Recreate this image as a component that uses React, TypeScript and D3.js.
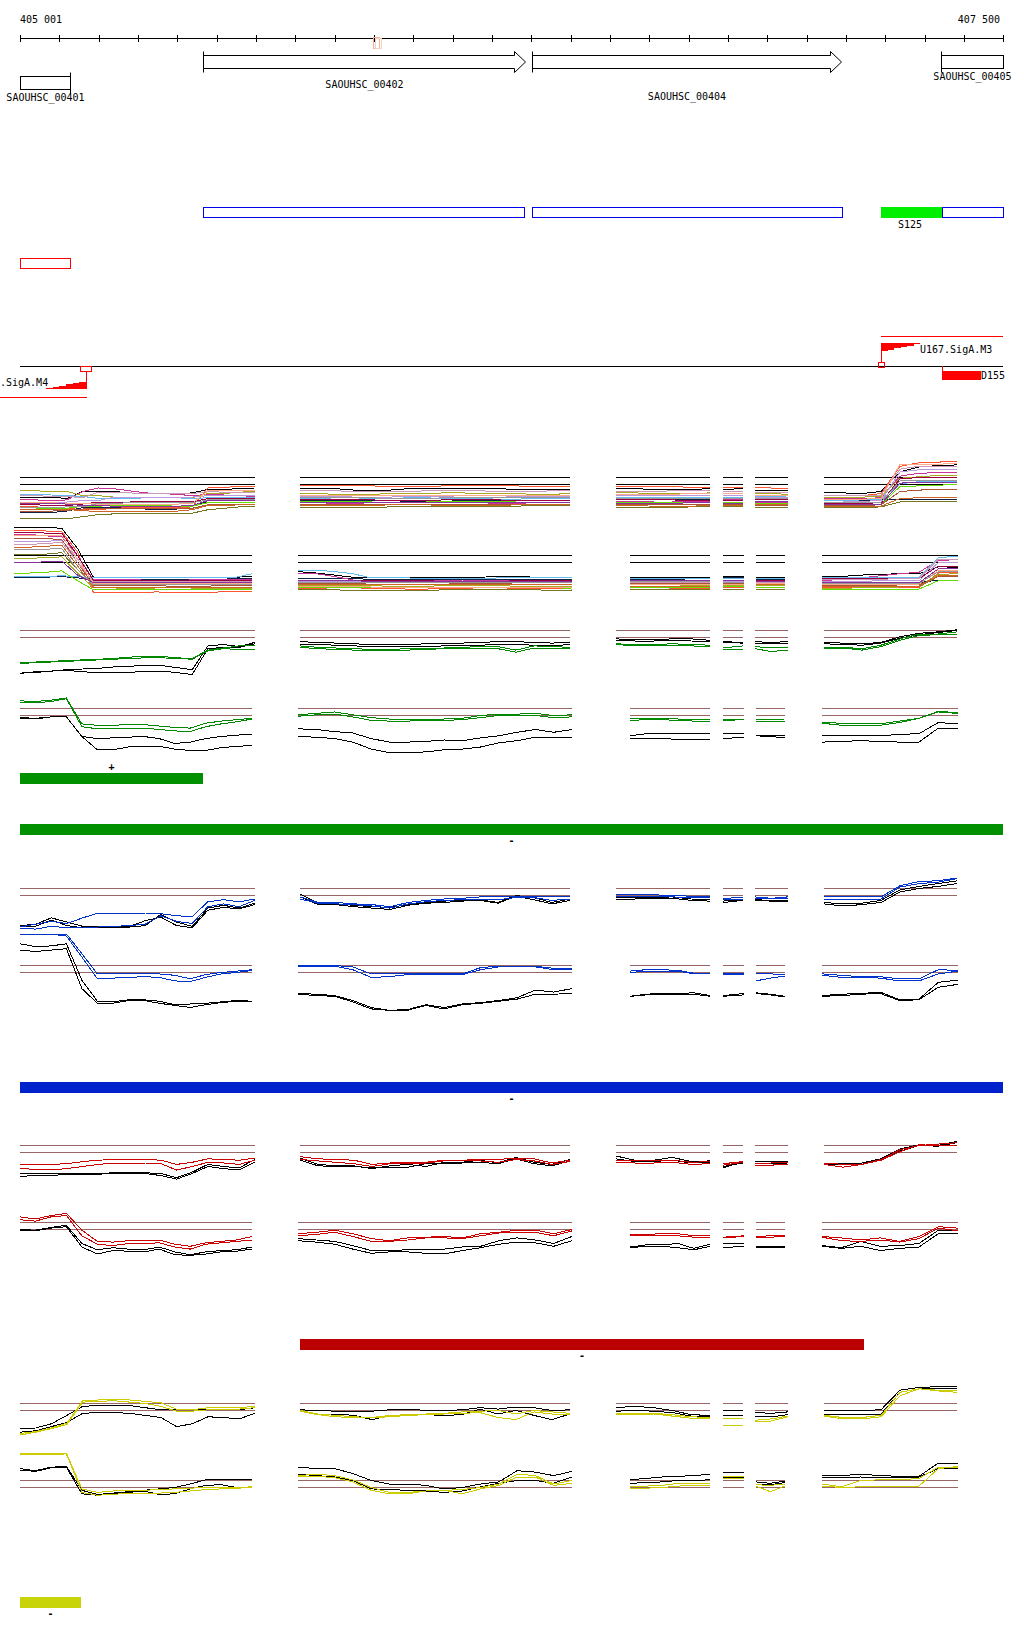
import React from 'react';
import * as d3 from 'd3';

// ---------- genome window ----------
const START = 405001;
const END = 407500;
const rulerLabels = ['405 001', '407 500'];
const rulerMarkBp = 405898;

// ---------- genes ----------
const geneNames = ['SAOUHSC_00401', 'SAOUHSC_00402', 'SAOUHSC_00404', 'SAOUHSC_00405'];
const geneStarts = [405001, 405466, 406302, 407342];
const geneEnds = [405128, 406285, 407087, 407500];
const geneShapes = ['box', 'arrow', 'arrow', 'box'];
const geneMarkAtEnd = [true, false, false, false];

// ---------- transcripts / features ----------
const transcriptStarts = [405466, 406302, 407345];
const transcriptEnds = [406282, 407090, 407500];
const greenFeature = [407190, 407345];
const greenFeatureLabel = 'S125';
const redBox = [405001, 405128];
const promoterPlus = { pos: 407190, lineEnd: 407500, label: 'U167.SigA.M3' };
const promoterMinus = { pos: 405169, lineStart: 404950, label: '.SigA.M4' };
const downFeature = { start: 407345, end: 407444, label: 'D155' };

// ---------- operon bars ----------
const barStarts = [405001, 405001, 405001, 405713, 405001];
const barEnds = [405466, 407500, 407500, 407146, 405156];
const barSigns = ['+', '-', '-', '-', '-'];

// ---------- probe segments (bp) ----------
const segsTop = [[405001, 405598], [405713, 406399], [406516, 406755], [406788, 406839], [406869, 406953], [407045, 407383]];
const segsBottom = [[405001, 405591], [405708, 406404], [406552, 406755], [406788, 406841], [406872, 406945], [407040, 407385]];
const segsBottomA = [[404986, 405591], [405708, 406404], [406552, 406755], [406788, 406841], [406872, 406945], [407040, 407385]];

// ---------- group A (many conditions) ----------
const paletteA = ['#000000', '#112244', '#ff5533', '#cc3399', '#aaaa22', '#777722', '#66bbee', '#bb99dd', '#aa5533', '#990044', '#66dd00', '#cc6622', '#cc99bb', '#ffaa88', '#999999', '#883399'];

const A1 = [
  [[-1.8,-1.8,-1.8,-2.0,-1.0,-1.0,-1.0,-1.2,-1.3,-1.3,-1.3,-1.2,-0.7,-0.7,-0.6,-0.5],[-0.6,-0.6,-0.6,-0.8,-0.8,-0.8,-0.6,-0.6,-0.6,-0.6,-0.6,-0.6,-0.7,-0.7,-0.7,-0.7],[-0.6,-0.6,-0.7,-0.7,-0.7,-0.6],[-0.7,-0.6],[-0.8,-0.8,-0.8],[-1.2,-1.2,-1.3,-1.0,1.8,2.5,2.7,2.8]],
  [[-4.0,-4.0,-4.0,-3.8,-3.3,-3.3,-3.3,-3.3,-3.5,-3.5,-3.5,-3.0,-2.5,-2.5,-2.5,-2.5],[-2.3,-2.3,-2.3,-2.3,-2.3,-2.3,-2.4,-2.4,-2.4,-2.3,-2.3,-2.3,-2.3,-2.3,-2.3,-2.3],[-2.1,-2.1,-2.1,-2.1,-2.1,-2.1],[-2.1,-2.1],[-2.1,-2.1,-2.1],[-2.3,-2.3,-2.3,-2.2,-2.2,-2.2,-2.2,-2.2]],
  [[-3.2,-3.2,-3.3,-3.4,-3.6,-3.6,-3.4,-3.3,-3.3,-3.3,-3.3,-3.2,-0.5,-0.4,-0.3,-0.3],[-0.2,-0.2,-0.2,-0.2,-0.2,-0.3,-0.3,-0.3,-0.2,-0.2,-0.2,-0.2,-0.2,-0.3,-0.3,-0.3],[-0.3,-0.3,-0.3,-0.3,-0.4,-0.4],[-0.4,-0.4],[-0.4,-0.5,-0.5],[-1.5,-1.5,-1.6,-1.3,2.6,3.1,3.2,3.3]],
  [[-2.2,-2.2,-2.3,-2.2,-1.0,-0.5,-0.6,-0.9,-1.2,-1.3,-1.4,-1.6,-1.4,-1.5,-1.6,-1.7],[-2.6,-2.6,-2.7,-2.7,-2.6,-2.6,-2.6,-2.5,-2.5,-2.6,-2.6,-2.7,-2.7,-2.6,-2.6,-2.6],[-2.4,-2.4,-2.5,-2.5,-2.4,-2.4],[-2.1,-2.1],[-2.5,-2.5,-2.5],[-2.0,-2.0,-2.0,-1.9,1.2,1.6,1.7,1.7]],
  [[-0.9,-0.9,-1.0,-1.0,-1.6,-1.6,-1.8,-1.8,-1.9,-1.9,-1.9,-1.9,-1.3,-1.3,-1.1,-1.0],[-1.3,-1.3,-1.4,-1.4,-1.4,-1.3,-1.3,-1.3,-1.2,-1.2,-1.3,-1.3,-1.3,-1.4,-1.4,-1.3],[-1.2,-1.2,-1.3,-1.3,-1.3,-1.2],[-1.5,-1.5],[-1.3,-1.3,-1.4],[-1.8,-1.8,-1.8,-1.7,0.9,1.1,1.3,1.3]],
  [[-4.9,-4.9,-4.9,-4.9,-4.6,-4.3,-4.2,-4.2,-4.2,-4.2,-4.2,-4.1,-3.6,-3.4,-3.2,-3.2],[-3.3,-3.3,-3.3,-3.3,-3.3,-3.2,-3.2,-3.2,-3.2,-3.1,-3.1,-3.1,-3.1,-3.0,-3.0,-3.0],[-3.3,-3.3,-3.3,-3.3,-3.2,-3.2],[-3.2,-3.2],[-3.3,-3.3,-3.3],[-3.3,-3.3,-3.3,-3.2,-2.5,-2.4,-2.4,-2.4]],
  [[-1.4,-1.4,-1.5,-1.6,-1.7,-2.0,-2.0,-2.0,-1.9,-1.9,-1.9,-2.0,-1.9,-1.8,-1.8,-1.8],[-2.0,-2.0,-2.1,-2.1,-2.0,-2.0,-1.9,-1.9,-2.0,-2.0,-2.0,-2.1,-2.1,-2.0,-2.0,-2.0],[-1.8,-1.8,-1.9,-1.9,-1.8,-1.8],[-1.9,-1.9],[-1.7,-1.7,-1.8],[-2.3,-2.3,-2.2,-2.2,0.1,0.4,0.4,0.5]],
  [[-2.6,-2.6,-2.6,-2.5,-2.3,-2.3,-1.8,-1.8,-1.8,-1.8,-1.9,-1.8,-1.6,-1.6,-1.5,-1.5],[-1.7,-1.7,-1.7,-1.8,-1.8,-1.8,-1.7,-1.7,-1.7,-1.6,-1.6,-1.6,-1.7,-1.7,-1.7,-1.7],[-1.5,-1.5,-1.6,-1.6,-1.6,-1.5],[-1.6,-1.6],[-1.8,-1.8,-1.8],[-2.5,-2.5,-2.4,-2.3,1.8,2.1,2.1,2.2]],
  [[-3.8,-3.8,-3.8,-3.7,-3.5,-3.4,-3.4,-3.4,-3.4,-3.4,-3.4,-3.4,-2.9,-2.9,-2.8,-2.8],[-2.9,-2.9,-2.9,-2.9,-2.8,-2.8,-2.8,-2.9,-2.9,-2.9,-2.9,-2.9,-2.8,-2.8,-2.8,-2.8],[-2.8,-2.8,-2.8,-2.9,-2.9,-2.9],[-2.8,-2.8],[-3.0,-3.0,-3.0],[-3.0,-3.0,-3.0,-2.9,-1.0,-0.8,-0.7,-0.7]],
  [[-2.9,-2.9,-3.0,-3.0,-2.8,-2.5,-2.5,-2.5,-2.4,-2.4,-2.4,-2.5,-2.0,-2.0,-2.0,-2.0],[-2.2,-2.2,-2.2,-2.2,-2.2,-2.3,-2.3,-2.3,-2.2,-2.2,-2.2,-2.2,-2.3,-2.3,-2.3,-2.3],[-2.2,-2.2,-2.2,-2.2,-2.3,-2.3],[-2.3,-2.3],[-2.2,-2.2,-2.2],[-2.7,-2.7,-2.7,-2.6,0.8,1.0,1.0,1.0]],
  [[-3.5,-3.5,-3.4,-3.4,-3.1,-3.1,-3.0,-3.0,-3.0,-3.0,-3.1,-3.1,-2.6,-2.6,-2.5,-2.5],[-2.4,-2.4,-2.4,-2.4,-2.5,-2.5,-2.5,-2.5,-2.4,-2.4,-2.4,-2.4,-2.5,-2.5,-2.5,-2.5],[-2.6,-2.6,-2.6,-2.5,-2.5,-2.5],[-2.6,-2.6],[-2.7,-2.7,-2.7],[-2.9,-2.9,-2.8,-2.8,-0.3,-0.2,-0.1,0.0]],
  [[-3.6,-3.6,-3.6,-3.6,-3.7,-3.9,-3.9,-3.8,-3.8,-3.8,-3.8,-3.6,-3.0,-3.0,-2.9,-2.9],[-3.0,-3.0,-3.0,-3.0,-3.0,-2.9,-2.9,-2.9,-3.0,-3.0,-3.0,-3.0,-2.9,-2.9,-2.9,-2.9],[-3.0,-3.0,-3.1,-3.1,-3.1,-3.0],[-3.0,-3.0],[-2.9,-2.9,-2.9],[-3.2,-3.2,-3.2,-3.1,-2.0,-1.9,-1.9,-1.8]],
  [[-1.6,-1.6,-1.7,-1.7,-1.9,-1.1,-1.1,-1.2,-1.3,-1.3,-1.3,-1.3,-1.0,-1.1,-1.1,-1.1],[-0.9,-0.9,-0.9,-1.0,-1.0,-1.0,-1.0,-0.9,-0.9,-0.9,-0.9,-1.0,-1.0,-1.0,-0.9,-0.9],[-1.0,-1.0,-1.0,-0.9,-0.9,-0.9],[-1.0,-1.0],[-1.1,-1.1,-1.1],[-1.6,-1.6,-1.6,-1.5,2.2,2.6,2.6,2.6]],
  [[-2.5,-2.5,-2.6,-2.7,-2.7,-2.8,-2.8,-2.9,-2.9,-2.9,-2.8,-2.7,-0.9,-0.9,-0.8,-0.8],[-1.6,-1.6,-1.6,-1.5,-1.5,-1.5,-1.5,-1.5,-1.6,-1.6,-1.6,-1.6,-1.5,-1.5,-1.5,-1.5],[-1.4,-1.4,-1.4,-1.4,-1.3,-1.3],[-1.3,-1.3],[-1.5,-1.5,-1.5],[-2.1,-2.1,-2.1,-2.0,2.9,2.9,2.9,3.0]],
  [[-3.3,-3.3,-3.3,-3.2,-3.2,-2.7,-2.7,-2.6,-2.6,-2.6,-2.6,-2.6,-2.2,-2.2,-2.1,-2.1],[-1.9,-1.9,-1.9,-1.9,-1.9,-2.0,-2.0,-2.0,-1.9,-1.9,-1.9,-1.9,-1.9,-1.8,-1.8,-1.8],[-2.0,-2.0,-2.0,-2.0,-2.0,-2.0],[-2.0,-2.0],[-2.0,-2.0,-2.0],[-2.6,-2.6,-2.6,-2.5,0.5,0.6,0.6,0.6]],
  [[-2.7,-2.7,-2.7,-2.8,-3.0,-3.0,-3.1,-3.1,-3.1,-3.1,-3.1,-3.0,-2.3,-2.3,-2.3,-2.3],[-2.5,-2.5,-2.5,-2.5,-2.6,-2.6,-2.6,-2.6,-2.6,-2.5,-2.5,-2.5,-2.5,-2.6,-2.6,-2.6],[-2.7,-2.7,-2.7,-2.7,-2.6,-2.6],[-2.7,-2.7],[-2.4,-2.4,-2.4],[-2.8,-2.8,-2.8,-2.8,0.2,0.3,0.3,0.3]],
];

const A2 = [
  [[5.0,5.0,5.0,4.9,2.0,-2.1,-2.1,-2.1,-2.1,-2.1,-2.1,-2.1,-2.1,-2.1,-2.1,-2.0],[-1.3,-1.5,-1.8,-2.1,-2.1,-2.1,-2.1,-2.1,-2.1,-2.1,-2.1,-2.0,-2.0,-2.1,-2.1,-2.1],[-2.1,-2.1,-2.1,-2.1,-2.1,-2.1],[-2.0,-2.0],[-2.1,-2.1,-2.1],[-2.0,-2.0,-1.8,-1.7,-1.6,-1.6,-0.6,-0.7]],
  [[-2.1,-2.1,-2.1,-2.0,-2.2,-2.4,-2.4,-2.4,-2.4,-2.4,-2.4,-2.4,-2.4,-2.4,-2.3,-2.3],[-2.3,-2.3,-2.3,-2.3,-2.4,-2.4,-2.4,-2.4,-2.4,-2.4,-2.4,-2.4,-2.4,-2.4,-2.4,-2.4],[-2.4,-2.4,-2.4,-2.4,-2.3,-2.3],[-2.2,-2.2],[-2.4,-2.4,-2.4],[-2.9,-2.9,-2.9,-2.9,-2.9,-2.9,-2.5,-2.5]],
  [[4.6,4.6,4.5,4.4,1.5,-4.3,-4.3,-4.3,-4.3,-4.2,-4.3,-4.3,-4.3,-4.2,-4.2,-4.2],[-3.7,-3.7,-3.6,-3.6,-3.7,-3.7,-3.8,-3.8,-3.7,-3.7,-3.6,-3.6,-3.7,-3.7,-3.7,-3.6],[-3.6,-3.6,-3.6,-3.7,-3.7,-3.7],[-3.6,-3.6],[-3.5,-3.5,-3.5],[-3.6,-3.6,-3.6,-3.6,-3.6,-3.6,-1.5,-1.4]],
  [[4.0,4.0,3.8,3.7,1.0,-2.4,-2.4,-2.4,-2.5,-2.5,-2.5,-2.5,-2.4,-2.4,-2.4,-2.4],[-1.5,-1.6,-2.0,-2.5,-2.5,-2.5,-2.5,-2.5,-2.5,-2.5,-2.6,-2.6,-2.6,-2.5,-2.5,-2.5],[-2.6,-2.6,-2.6,-2.6,-2.6,-2.6],[-2.5,-2.5],[-2.5,-2.5,-2.5],[-2.6,-2.4,-2.2,-1.9,-1.6,-1.4,0.3,0.4]],
  [[0.6,0.6,0.7,0.8,-1.5,-3.6,-3.6,-3.7,-3.7,-3.8,-3.8,-3.8,-3.7,-3.7,-3.7,-3.7],[-3.3,-3.3,-3.3,-3.3,-3.3,-3.4,-3.4,-3.4,-3.3,-3.3,-3.3,-3.3,-3.4,-3.4,-3.4,-3.4],[-3.2,-3.2,-3.2,-3.2,-3.3,-3.3],[-3.3,-3.3],[-3.3,-3.3,-3.3],[-3.7,-3.7,-3.6,-3.6,-3.5,-3.4,-1.7,-1.6]],
  [[1.2,1.2,1.2,1.4,-1.0,-3.1,-3.1,-3.1,-3.0,-3.0,-3.0,-3.0,-3.0,-3.0,-3.0,-3.0],[-3.9,-3.9,-3.9,-4.0,-4.0,-4.0,-4.0,-4.0,-3.9,-3.9,-3.9,-3.9,-3.9,-3.9,-4.0,-4.0],[-3.9,-3.9,-3.9,-3.9,-3.9,-3.9],[-3.9,-3.9],[-3.8,-3.8,-3.8],[-3.4,-3.4,-3.4,-3.4,-3.4,-3.4,-2.0,-2.0]],
  [[-2.0,-2.0,-2.0,-1.9,-2.0,-2.2,-2.2,-2.2,-2.2,-2.2,-2.2,-2.1,-2.1,-2.1,-2.1,-1.6],[-1.1,-1.1,-1.3,-1.6,-2.2,-2.2,-2.2,-2.3,-2.3,-2.3,-2.3,-2.2,-2.2,-2.2,-2.2,-2.2],[-2.3,-2.3,-2.3,-2.3,-2.3,-2.3],[-2.3,-2.3],[-2.3,-2.3,-2.3],[-2.2,-2.2,-2.2,-2.2,-2.2,-2.1,0.7,0.9]],
  [[3.0,3.0,3.0,3.2,0.5,-2.8,-2.8,-2.8,-2.8,-2.9,-2.9,-2.9,-2.9,-2.8,-2.8,-2.8],[-2.7,-2.7,-2.7,-2.7,-2.8,-2.8,-2.8,-2.8,-2.8,-2.7,-2.7,-2.7,-2.7,-2.8,-2.8,-2.8],[-2.8,-2.8,-2.8,-2.8,-2.7,-2.7],[-2.7,-2.7],[-2.8,-2.8,-2.8],[-2.7,-2.7,-2.7,-2.6,-2.6,-2.6,0.0,0.0]],
  [[3.5,3.5,3.4,3.3,0.0,-3.3,-3.3,-3.3,-3.3,-3.3,-3.4,-3.4,-3.4,-3.3,-3.3,-3.3],[-3.0,-3.0,-3.0,-3.0,-3.1,-3.1,-3.1,-3.1,-3.1,-3.0,-3.0,-3.0,-3.1,-3.1,-3.1,-3.1],[-3.0,-3.0,-3.0,-3.0,-3.0,-3.0],[-3.0,-3.0],[-3.1,-3.1,-3.1],[-3.3,-3.3,-3.3,-3.3,-3.2,-3.2,-2.0,-2.0]],
  [[4.3,4.3,4.2,4.2,1.0,-2.6,-2.6,-2.6,-2.6,-2.6,-2.6,-2.6,-2.6,-2.6,-2.6,-2.6],[-2.6,-2.6,-2.6,-2.6,-2.6,-2.6,-2.6,-2.6,-2.7,-2.7,-2.7,-2.7,-2.6,-2.6,-2.6,-2.6],[-2.5,-2.5,-2.5,-2.5,-2.5,-2.5],[-2.6,-2.6],[-2.6,-2.6,-2.6],[-2.3,-2.3,-2.3,-2.3,-2.3,-2.3,-0.5,-0.5]],
  [[-1.5,-1.5,-1.4,-1.2,-2.6,-3.9,-3.9,-3.9,-3.9,-3.9,-3.9,-3.9,-3.9,-3.9,-3.9,-3.9],[-3.5,-3.5,-3.5,-3.5,-3.5,-3.6,-3.6,-3.6,-3.6,-3.6,-3.6,-3.5,-3.5,-3.5,-3.5,-3.8],[-3.5,-3.5,-3.5,-3.5,-3.5,-3.5],[-3.4,-3.4],[-3.6,-3.6,-3.6],[-3.9,-3.9,-3.9,-3.9,-3.9,-3.8,-2.6,-2.6]],
  [[2.2,2.2,2.3,2.5,-0.5,-3.5,-3.5,-3.5,-3.5,-3.5,-3.5,-3.6,-3.6,-3.5,-3.5,-3.5],[-3.2,-3.2,-3.2,-3.2,-3.2,-3.2,-3.2,-3.2,-3.2,-3.2,-3.2,-3.2,-3.2,-3.2,-3.2,-3.2],[-3.4,-3.4,-3.4,-3.4,-3.4,-3.4],[-3.2,-3.2],[-3.2,-3.2,-3.2],[-3.4,-3.4,-3.4,-3.4,-3.4,-3.4,-1.9,-1.9]],
  [[2.6,2.6,2.7,2.9,0.0,-2.7,-2.7,-2.7,-2.7,-2.7,-2.7,-2.7,-2.7,-2.7,-2.7,-2.7],[-2.9,-2.9,-2.9,-2.9,-2.9,-2.9,-2.9,-2.9,-2.9,-2.9,-2.9,-2.9,-2.9,-2.9,-2.9,-2.9],[-2.9,-2.9,-2.9,-2.9,-2.9,-2.9],[-2.9,-2.9],[-2.9,-2.9,-2.9],[-2.4,-2.4,-2.4,-2.4,-2.3,-2.3,0.5,0.5]],
  [[3.8,3.8,3.8,3.9,0.5,-3.0,-3.0,-3.0,-3.0,-3.0,-3.0,-3.0,-3.0,-3.0,-3.0,-3.0],[-3.4,-3.4,-3.4,-3.4,-3.5,-3.5,-3.5,-3.5,-3.5,-3.5,-3.5,-3.5,-3.5,-3.5,-3.5,-3.5],[-3.1,-3.1,-3.1,-3.1,-3.1,-3.1],[-3.1,-3.1],[-3.0,-3.0,-3.0],[-3.1,-3.1,-3.1,-3.1,-3.1,-3.1,-1.1,-1.1]],
  [[1.8,1.8,1.9,2.0,-1.0,-3.2,-3.2,-3.2,-3.2,-3.2,-3.2,-3.2,-3.2,-3.2,-3.2,-3.2],[-2.8,-2.8,-2.8,-2.8,-2.8,-2.9,-2.9,-2.9,-2.9,-2.9,-2.9,-2.9,-2.9,-2.9,-2.9,-2.9],[-2.7,-2.7,-2.7,-2.7,-2.7,-2.7],[-2.8,-2.8],[-2.7,-2.7,-2.7],[-3.0,-3.0,-3.0,-3.0,-3.0,-3.0,-1.3,-1.3]],
  [[0.0,0.0,0.1,0.2,-1.8,-2.9,-2.9,-2.9,-2.9,-2.9,-2.9,-2.9,-2.9,-2.9,-2.9,-2.9],[-2.6,-2.6,-2.6,-2.6,-2.7,-2.7,-2.7,-2.7,-2.7,-2.7,-2.7,-2.7,-2.7,-2.7,-2.7,-2.7],[-2.6,-2.6,-2.6,-2.6,-2.6,-2.6],[-2.6,-2.6],[-2.7,-2.7,-2.7],[-2.9,-2.9,-2.9,-2.9,-2.9,-2.9,-0.9,-0.9]],
];

// ---------- group B (green) : [black a, black b, colour a, colour b] ----------
const B1 = [
  [[-5.1,-4.9,-4.8,-4.6,-4.5,-4.4,-4.2,-4.1,-4.0,-4.0,-4.3,-4.6,-1.2,-1.0,-1.3,-0.7],[-0.6,-0.7,-0.8,-0.9,-1.0,-1.0,-1.0,-0.9,-0.9,-0.8,-0.7,-0.6,-0.6,-0.7,-0.8,-0.7],[-0.2,-0.3,-0.3,-0.2,-0.2,-0.4],[-0.6,-0.7],[-0.6,-0.7,-0.6],[-0.7,-0.8,-0.9,-0.7,0.1,0.6,0.8,1.1]],
  [[-5.1,-5.0,-4.8,-4.7,-4.9,-5.0,-5.0,-5.0,-4.8,-4.8,-5.0,-5.3,-1.6,-1.4,-1.4,-0.9],[-1.0,-1.0,-1.1,-1.2,-1.3,-1.3,-1.3,-1.3,-1.2,-1.2,-1.1,-1.0,-1.0,-1.1,-1.2,-1.0],[-0.4,-0.5,-0.5,-0.4,-0.5,-0.6],[-0.7,-0.8],[-0.8,-0.9,-0.8],[-0.9,-1.0,-1.1,-0.8,-0.1,0.4,0.7,1.0]],
  [[-3.6,-3.5,-3.4,-3.3,-3.2,-3.1,-3.0,-2.8,-2.7,-2.7,-2.9,-3.0,-1.8,-1.5,-1.2,-1.1],[-1.2,-1.4,-1.5,-1.6,-1.7,-1.7,-1.6,-1.5,-1.5,-1.4,-1.3,-1.3,-1.8,-1.2,-1.3,-1.4],[-0.9,-1.0,-1.0,-0.9,-1.0,-1.1],[-1.5,-1.2],[-1.3,-1.5,-1.4],[-1.4,-1.4,-1.6,-1.1,-0.2,0.5,0.5,0.8]],
  [[-3.7,-3.6,-3.5,-3.4,-3.3,-3.2,-3.1,-3.0,-2.9,-2.9,-3.0,-3.1,-1.9,-1.6,-1.7,-1.7],[-1.4,-1.6,-1.7,-1.8,-1.9,-1.9,-1.8,-1.7,-1.6,-1.5,-1.5,-1.6,-2.1,-1.5,-1.6,-1.6],[-1.0,-1.2,-1.2,-1.1,-1.2,-1.3],[-1.7,-1.7],[-1.6,-2.0,-1.8],[-1.5,-1.5,-1.8,-1.3,-0.4,0.3,0.4,0.4]],
];
const B2 = [
  [[-0.3,-0.4,-0.2,-0.2,-3.0,-3.3,-3.2,-3.1,-3.0,-3.3,-4.0,-3.8,-3.3,-3.0,-2.8,-2.7],[-1.9,-2.0,-2.3,-2.5,-3.3,-3.8,-3.8,-3.7,-3.5,-3.6,-3.2,-2.9,-2.4,-2.0,-2.4,-2.0],[-2.9,-2.6,-2.5,-2.5,-2.6,-2.6],[-2.6,-2.6],[-2.8,-2.9,-2.9],[-2.9,-2.9,-2.8,-2.9,-2.7,-2.6,-1.0,-1.2]],
  [[-0.4,-0.5,-0.2,-0.2,-3.0,-4.9,-4.9,-4.5,-4.4,-4.4,-4.8,-5.0,-5.0,-4.6,-4.4,-4.3],[-3.0,-3.1,-3.3,-3.8,-4.8,-5.3,-5.3,-5.2,-4.9,-4.8,-4.5,-3.9,-3.6,-3.1,-3.1,-3.1],[-3.3,-3.3,-3.3,-3.4,-3.4,-3.4],[-3.3,-3.1],[-2.9,-3.0,-3.2],[-3.8,-3.7,-3.6,-3.7,-3.8,-3.8,-1.8,-1.9]],
  [[2.1,2.0,2.2,2.5,-1.2,-1.4,-1.4,-1.3,-1.3,-1.5,-1.7,-1.8,-1.1,-0.8,-0.6,-0.4],[0.1,0.3,0.5,0.1,-0.3,-0.5,-0.5,-0.5,-0.5,-0.4,0.0,0.2,0.2,0.3,0.0,0.1],[-0.5,-0.4,-0.4,-0.5,-0.5,-0.6],[-0.6,-0.5],[-0.6,-0.6,-0.5],[-1.0,-1.1,-1.2,-1.2,-0.8,-0.4,0.6,0.4]],
  [[1.9,1.8,2.0,2.4,-1.6,-1.9,-1.9,-1.8,-1.8,-2.0,-2.2,-2.3,-1.6,-1.2,-0.9,-0.5],[-0.1,0.1,0.2,-0.2,-0.7,-0.8,-0.8,-0.7,-0.7,-0.6,-0.3,0.0,0.0,0.0,-0.3,-0.2],[-0.7,-0.6,-0.6,-0.7,-0.8,-0.8],[-0.7,-0.6],[-0.9,-0.9,-0.9],[-1.1,-1.4,-1.4,-1.4,-1.0,-0.4,0.5,0.3]],
];

// ---------- group C (blue) ----------
const C1 = [
  [[-4.3,-4.1,-3.2,-3.8,-4.4,-4.5,-4.5,-4.5,-4.3,-2.7,-3.8,-4.4,-1.8,-1.4,-1.8,-1.1],[0.2,-1.1,-1.2,-1.4,-1.6,-1.7,-1.3,-1.0,-0.8,-0.7,-0.6,-1.0,0.0,-0.3,-1.0,-0.5],[-0.3,-0.3,-0.3,-0.2,-0.5,-0.6],[-0.8,-0.6],[-0.6,-0.7,-0.7],[-1.0,-1.2,-1.1,-0.7,0.8,1.3,1.7,2.1]],
  [[-4.5,-4.4,-3.5,-4.3,-4.6,-4.6,-4.5,-4.4,-3.6,-3.1,-4.3,-4.6,-2.1,-1.7,-1.9,-1.3],[-0.2,-1.3,-1.3,-1.6,-1.8,-2.0,-1.4,-1.1,-1.0,-0.8,-0.7,-1.1,-0.1,-0.6,-1.2,-0.7],[-0.5,-0.5,-0.4,-0.4,-0.7,-0.8],[-1.0,-0.7],[-0.7,-0.8,-0.8],[-1.2,-1.5,-1.3,-1.0,0.5,1.0,1.3,1.7]],
  [[-4.5,-4.1,-3.7,-4.0,-3.2,-2.5,-2.5,-2.5,-2.5,-2.6,-2.9,-3.0,-0.9,-0.6,-0.9,-0.5],[-0.2,-1.0,-1.0,-1.2,-1.3,-1.6,-1.0,-0.7,-0.5,-0.4,-0.2,-0.2,-0.2,-0.1,-0.2,-0.2],[0.1,0.1,0.1,0.0,-0.1,-0.1],[-0.4,-0.3],[-0.2,-0.4,-0.2],[-0.2,-0.2,-0.2,-0.2,1.4,2.0,2.1,2.5]],
  [[-4.7,-4.8,-4.4,-4.6,-4.5,-4.5,-4.4,-4.3,-4.1,-2.9,-3.7,-4.0,-1.6,-1.2,-1.6,-0.7],[-0.5,-1.1,-1.2,-1.3,-1.5,-1.8,-1.2,-0.9,-0.7,-0.6,-0.5,-0.6,-0.3,-0.3,-0.7,-0.5],[-0.1,-0.1,-0.1,-0.2,-0.3,-0.3],[-0.5,-0.5],[-0.4,-0.5,-0.4],[-0.6,-0.6,-0.6,-0.5,1.2,1.7,1.9,2.4]],
];
const C2 = [
  [[4.1,3.7,3.8,4.1,-1.1,-4.1,-4.2,-3.9,-3.9,-4.1,-4.6,-4.5,-4.4,-4.2,-4.0,-4.1],[-3.0,-3.1,-3.3,-4.0,-5.0,-5.4,-5.3,-4.6,-5.0,-4.5,-4.3,-4.0,-3.6,-2.5,-2.8,-2.3],[-3.4,-3.1,-3.0,-3.0,-2.9,-3.3],[-3.3,-3.0],[-2.9,-3.1,-3.4],[-3.3,-3.1,-3.0,-2.8,-3.9,-3.8,-1.4,-1.1]],
  [[3.2,3.0,3.2,3.4,-2.3,-4.4,-4.4,-4.0,-4.0,-4.4,-4.7,-5.0,-4.6,-4.3,-4.1,-4.2],[-3.1,-3.3,-3.4,-4.2,-5.2,-5.4,-5.4,-4.7,-5.2,-4.6,-4.4,-4.1,-3.8,-3.1,-3.1,-3.0],[-3.4,-3.2,-3.1,-3.2,-3.1,-3.4],[-3.4,-3.2],[-3.0,-3.2,-3.5],[-3.4,-3.3,-3.1,-3.0,-4.0,-3.9,-2.1,-1.7]],
  [[5.5,5.5,5.5,5.5,2.7,-0.2,-0.2,-0.2,-0.2,-0.2,-0.4,-0.9,-0.3,0.0,0.2,0.4],[1.0,1.0,1.0,0.8,-0.2,-0.2,-0.2,-0.2,-0.2,-0.2,0.7,0.9,0.9,0.9,0.6,0.5],[0.2,0.4,0.4,0.3,-0.1,-0.1],[-0.2,-0.2],[-0.2,-0.2,-0.3],[-0.2,-0.4,-0.6,-0.6,-0.9,-0.9,0.4,0.3]],
  [[5.5,5.5,5.5,5.2,2.2,-0.9,-0.8,-0.7,-0.6,-0.7,-1.2,-1.3,-0.7,-0.2,0.0,0.3],[0.9,0.9,0.9,0.4,-0.7,-0.6,-0.3,-0.3,-0.3,-0.3,0.4,0.8,0.8,0.8,0.4,0.4],[0.0,0.2,0.2,0.2,-0.2,-0.2],[-0.3,-0.3],[-1.2,-0.8,-0.5],[-0.4,-0.7,-0.7,-0.8,-1.2,-1.2,-0.2,0.2]],
];

// ---------- group D (red) ----------
const D1 = [
  [[-3.0,-3.0,-3.0,-3.0,-3.0,-3.0,-2.9,-2.8,-2.9,-3.0,-3.6,-2.8,-1.7,-2.0,-2.2,-1.0],[-0.8,-1.7,-1.9,-1.9,-2.3,-1.9,-1.7,-2.0,-1.4,-1.4,-1.1,-1.5,-0.7,-1.4,-1.7,-1.0],[-0.5,-1.1,-1.1,-0.7,-1.3,-1.2],[-2.2,-1.3],[-1.3,-1.3,-1.3],[-1.5,-1.5,-1.5,-0.9,0.5,1.1,1.0,1.6]],
  [[-3.4,-3.3,-3.3,-3.1,-3.1,-3.1,-3.0,-3.0,-3.0,-3.3,-3.8,-3.0,-2.0,-2.3,-2.5,-1.4],[-1.1,-1.9,-2.0,-2.0,-2.2,-2.1,-2.1,-1.6,-1.5,-1.5,-1.4,-1.6,-0.9,-1.6,-1.9,-1.2],[-0.9,-1.3,-1.3,-1.1,-1.5,-1.4],[-2.0,-1.5],[-1.5,-1.6,-1.5],[-1.7,-1.7,-1.7,-1.1,0.2,1.0,0.9,1.4]],
  [[-1.7,-1.7,-1.7,-1.6,-1.3,-1.1,-1.0,-1.0,-1.0,-1.1,-1.7,-1.4,-0.9,-1.0,-1.1,-0.8],[-0.6,-0.9,-1.0,-1.1,-1.7,-1.5,-1.4,-1.4,-1.1,-1.1,-1.0,-1.0,-0.8,-0.9,-1.5,-1.1],[-1.1,-1.2,-1.2,-1.1,-1.4,-1.3],[-1.6,-1.3],[-1.5,-1.5,-1.4],[-1.5,-1.7,-1.7,-1.0,0.4,1.0,1.2,1.4]],
  [[-2.3,-2.4,-2.5,-2.3,-2.0,-1.7,-1.5,-1.5,-1.5,-1.6,-2.5,-2.0,-1.4,-1.5,-1.7,-1.1],[-1.0,-1.2,-1.4,-1.6,-2.0,-1.6,-1.5,-1.5,-1.2,-1.2,-1.2,-1.4,-1.0,-1.2,-1.7,-1.3],[-1.4,-1.5,-1.5,-1.4,-1.7,-1.6],[-1.8,-1.4],[-1.8,-1.8,-1.7],[-1.7,-2.1,-1.7,-1.1,0.1,1.1,1.0,1.0]],
];
const D2 = [
  [[0.0,-0.1,0.3,0.6,-2.0,-2.9,-2.6,-2.8,-2.9,-2.5,-3.2,-3.6,-3.2,-3.0,-2.9,-2.5],[-1.3,-1.5,-1.7,-2.3,-3.0,-3.0,-2.9,-2.8,-2.8,-2.5,-2.4,-1.6,-1.2,-1.5,-2.0,-1.0],[-2.5,-2.2,-2.2,-2.0,-2.7,-2.1],[-2.0,-2.0],[-2.4,-2.4,-2.4],[-2.3,-2.6,-1.7,-2.4,-2.3,-2.0,-0.1,-0.1]],
  [[-0.1,-0.2,0.2,0.4,-2.5,-3.5,-3.0,-3.1,-3.2,-2.8,-3.6,-3.7,-3.5,-3.2,-3.1,-2.8],[-1.6,-1.8,-2.1,-2.8,-3.4,-3.2,-3.2,-3.4,-3.5,-3.0,-2.6,-2.1,-1.8,-1.9,-2.4,-1.6],[-2.6,-2.4,-2.4,-2.6,-2.9,-2.4],[-2.6,-2.4],[-2.6,-2.5,-2.5],[-2.4,-2.7,-2.4,-3.0,-2.7,-2.5,-0.6,-0.6]],
  [[1.8,1.5,2.0,2.3,-0.1,-1.7,-1.8,-1.6,-1.6,-1.5,-2.1,-2.4,-1.9,-1.7,-1.5,-1.0],[-0.6,-0.4,-0.1,-0.6,-1.3,-1.6,-1.2,-1.1,-1.0,-1.2,-0.6,-0.4,-0.1,-0.1,-0.6,0.0],[-0.7,-0.7,-0.6,-0.6,-0.9,-0.9],[-1.1,-0.9],[-1.0,-0.9,-0.8],[-1.0,-1.2,-1.5,-1.2,-1.7,-1.0,0.4,0.2]],
  [[1.4,1.2,1.8,2.0,-0.9,-2.1,-2.3,-2.0,-2.0,-1.9,-2.5,-2.8,-2.1,-1.9,-1.7,-1.5],[-0.9,-0.7,-0.4,-1.0,-1.7,-1.7,-1.5,-1.2,-1.2,-1.3,-0.9,-0.5,-0.4,-0.4,-0.9,-0.2],[-0.9,-0.9,-0.8,-0.9,-1.1,-1.1],[-1.2,-1.0],[-1.2,-1.1,-1.0],[-1.1,-1.6,-1.7,-1.5,-1.8,-1.3,0.2,-0.2]],
];

// ---------- group E (yellow) ----------
const E1 = [
  [[-2.6,-2.5,-1.9,-0.7,0.6,0.7,0.7,0.7,0.4,0.1,0.1,0.1,0.1,0.1,0.1,0.4],[0.1,0.0,-0.1,-0.1,-0.1,0.1,0.2,0.0,0.0,0.1,0.4,0.2,0.5,0.4,0.0,0.1],[0.4,0.6,0.4,0.0,-0.6,-0.7],[0.0,0.0],[-0.3,-0.4,-0.2],[0.0,0.0,0.0,0.1,2.9,3.3,3.4,3.4]],
  [[-3.1,-2.9,-2.3,-1.7,-0.4,-0.3,-0.3,-0.4,-0.7,-1.0,-2.3,-1.9,-0.9,-1.0,-1.2,-0.4],[-0.1,-0.5,-0.5,-0.7,-1.3,-0.7,-0.7,-0.6,-0.7,-0.6,0.2,-0.5,0.0,-0.7,-1.3,-0.5],[-0.1,0.0,-0.1,-0.3,-0.8,-0.9],[-0.7,-0.7],[-0.9,-0.9,-0.6],[-0.6,-0.6,-0.6,-0.5,2.6,3.1,3.1,3.2]],
  [[-3.3,-3.0,-2.5,-1.8,1.4,1.5,1.6,1.5,1.3,1.1,0.2,0.1,0.4,0.4,0.4,0.6],[0.0,-0.5,-0.7,-0.9,-1.0,-0.7,-0.6,-0.5,-0.4,-0.2,-0.1,0.0,-0.5,0.0,-0.2,-0.4],[-0.4,-0.4,-0.4,-0.6,-0.9,-1.0],[-1.2,-1.2],[-1.4,-1.2,-0.8],[-0.7,-1.0,-1.0,-0.7,2.6,3.1,2.9,2.9]],
  [[-3.5,-3.1,-2.6,-2.0,1.2,1.3,1.4,1.2,1.0,0.6,-0.1,-0.1,0.1,0.2,0.2,0.4],[-0.1,-0.6,-0.9,-1.0,-1.0,-0.9,-0.7,-0.6,-0.5,-0.4,-0.3,-1.0,-1.3,-0.2,-0.5,-0.5],[-0.5,-0.6,-0.5,-0.8,-1.1,-1.2],[-2.1,-2.1],[-1.6,-1.5,-0.9],[-0.8,-1.2,-1.2,-0.9,2.1,3.1,2.8,2.6]],
];
const E2 = [
  [[2.7,2.4,2.9,3.0,-0.4,-1.0,-0.8,-0.6,-0.4,-0.2,0.0,0.5,1.1,1.1,1.1,1.1],[2.9,2.7,2.7,2.0,1.0,0.5,0.5,0.3,-0.2,0.0,0.5,0.8,2.4,2.2,1.7,2.3],[1.1,1.3,1.5,1.6,1.7,1.9],[2.1,2.1],[0.8,0.6,0.9],[1.7,1.7,1.9,1.7,1.6,1.6,3.5,3.5]],
  [[2.5,2.3,2.8,2.9,-0.9,-1.1,-0.9,-0.7,-0.5,-1.0,-0.9,-0.2,0.3,0.4,0.0,0.1],[1.9,1.7,1.5,1.0,-0.2,-0.3,-0.4,-0.5,-0.7,-0.5,0.1,0.6,1.0,1.0,0.6,1.5],[0.6,0.7,0.8,1.0,1.0,1.1],[1.5,1.5],[0.5,0.4,0.7],[1.4,1.4,1.5,1.4,1.4,1.5,2.7,2.7]],
  [[4.8,4.8,4.8,4.9,-0.2,-0.7,-0.5,-0.4,-0.4,-0.3,-0.2,-0.1,0.0,0.0,0.0,0.1],[1.7,1.9,1.7,1.1,0.0,-0.7,-0.7,-0.5,-0.4,-0.3,0.0,0.5,1.9,1.7,0.5,1.0],[0.2,0.2,0.3,0.6,0.6,0.6],[1.6,1.6],[0.4,0.3,0.5],[0.5,0.1,1.0,1.1,1.1,1.3,2.9,2.9]],
  [[4.7,4.7,4.7,4.8,-0.7,-1.1,-1.0,-0.8,-0.9,-0.8,-0.7,-0.5,-0.3,-0.2,-0.1,0.0],[1.5,1.6,1.4,0.8,-0.4,-0.9,-0.9,-0.5,-0.4,-0.9,-0.2,0.3,1.5,1.5,0.3,0.6],[-0.1,-0.1,0.0,0.2,0.3,0.3],[1.3,1.3],[0.2,-0.6,0.2],[0.2,0.0,0.1,0.2,0.2,0.2,2.7,3.0]],
];

// ---------- styles ----------
const FONT = '"DejaVu Sans Mono", monospace';
const BROWN = '#996666';
const GREEN_LINE = '#008800';
const BLUE_LINE = '#0033cc';
const RED_LINE = '#cc0000';
const YELLOW_LINE = '#cccc00';
const barColors = ['#009000', '#009000', '#0022cc', '#bb0000', '#c8d408'];
const barTops = [773, 824, 1082, 1339, 1597];

type Row = { series: number[][][]; colors: string[]; ref: string; refBottom: number; segs: number[][] };

const rowsLayout: Row[] = [
  { series: A1, colors: paletteA, ref: '#000000', refBottom: 484, segs: segsTop },
  { series: A2, colors: paletteA, ref: '#000000', refBottom: 562, segs: segsBottomA },
  { series: B1, colors: ['#000', '#000', GREEN_LINE, GREEN_LINE], ref: BROWN, refBottom: 637, segs: segsTop },
  { series: B2, colors: ['#000', '#000', GREEN_LINE, GREEN_LINE], ref: BROWN, refBottom: 715, segs: segsBottom },
  { series: C1, colors: ['#000', '#000', BLUE_LINE, BLUE_LINE], ref: BROWN, refBottom: 895, segs: segsTop },
  { series: C2, colors: ['#000', '#000', BLUE_LINE, BLUE_LINE], ref: BROWN, refBottom: 972, segs: segsBottom },
  { series: D1, colors: ['#000', '#000', RED_LINE, RED_LINE], ref: BROWN, refBottom: 1152, segs: segsTop },
  { series: D2, colors: ['#000', '#000', RED_LINE, RED_LINE], ref: BROWN, refBottom: 1229, segs: segsBottom },
  { series: E1, colors: ['#000', '#000', YELLOW_LINE, YELLOW_LINE], ref: BROWN, refBottom: 1410, segs: segsTop },
  { series: E2, colors: ['#000', '#000', YELLOW_LINE, YELLOW_LINE], ref: BROWN, refBottom: 1487, segs: segsBottom },
];

export default function App() {
  const x = d3.scaleLinear().domain([START, END]).range([20, 1003]);
  const ticks = [...d3.range(START, END, 100), END];

  const geneTop = [76, 55, 55, 55];
  const geneLabelY = [101, 88, 100, 80];

  const elements: React.ReactNode[] = [];

  // data rows
  rowsLayout.forEach((row, ri) => {
    const y = d3.scaleLinear().domain([0, 1]).range([row.refBottom + 0.5, row.refBottom - 6.5]);
    const line = d3.line<[number, number]>().x((d) => x(d[0])).y((d) => y(d[1]));
    row.segs.forEach((seg, si) => {
      [0, 1].forEach((v) => {
        elements.push(
          <line key={`ref-${ri}-${si}-${v}`} x1={x(seg[0])} x2={x(seg[1])} y1={y(v)} y2={y(v)} stroke={row.ref} strokeWidth={1} shapeRendering="crispEdges" />
        );
      });
    });
    row.series.forEach((ser, k) => {
      ser.forEach((vals, si) => {
        const seg = row.segs[si];
        const n = vals.length;
        const pts: [number, number][] = vals.map((v, i) => [seg[0] + ((seg[1] - seg[0]) * i) / (n - 1), v]);
        elements.push(
          <path key={`s-${ri}-${k}-${si}`} d={line(pts) || ''} fill="none" stroke={row.colors[k]} strokeWidth={1} shapeRendering="crispEdges" />
        );
      });
    });
  });

  // flag staircase helper
  const stair = (x0: number, x1: number, yBase: number, h: number, steps: number, up: boolean) => {
    const pts: string[] = [];
    const w = (x1 - x0) / steps;
    for (let i = 0; i < steps; i++) {
      const frac = up ? (i + 1) / steps : (steps - i) / steps;
      const yy = up ? yBase - h * frac : yBase + h * frac;
      pts.push(`${x0 + i * w},${yy}`, `${x0 + (i + 1) * w},${yy}`);
    }
    return pts;
  };

  const pX = Math.round(x(promoterPlus.pos));
  const mX = Math.round(x(promoterMinus.pos));
  const dX0 = Math.round(x(downFeature.start));
  const dX1 = Math.round(x(downFeature.end));

  const rightFlag = [`${pX},343`, `${pX + 39},343`, ...stair(pX, pX + 39, 343, 8, 6, false).reverse()].join(' ');
  const leftFlag = [`${mX},389`, `${mX - 40},389`, ...stair(mX - 40, mX, 389, 7, 6, true)].join(' ');

  return (
    <svg width={1024} height={1640} style={{ position: 'absolute', left: 0, top: 0, display: 'block', background: '#fff' }} fontFamily={FONT} fontSize={10}>
      <rect x={0} y={0} width={1024} height={1640} fill="#fff" />
      {/* ruler */}
      <line x1={x(START)} x2={x(END)} y1={38.5} y2={38.5} stroke="#000" />
      {ticks.map((t) => (
        <line key={`t${t}`} x1={Math.round(x(t)) + 0.5} x2={Math.round(x(t)) + 0.5} y1={35} y2={42} stroke="#000" />
      ))}
      <text x={x(START)} y={23} fill="#000">{rulerLabels[0]}</text>
      <text x={x(END) - 3} y={23} fill="#000" textAnchor="end">{rulerLabels[1]}</text>
      <rect x={Math.round(x(rulerMarkBp)) + 0.5} y={37.5} width={6} height={11} fill="none" stroke="#f3b49a" />
      <rect x={Math.round(x(rulerMarkBp)) + 2.5} y={38.5} width={6} height={10} fill="none" stroke="#f8d0c0" />

      {/* genes */}
      {geneNames.map((g, i) => {
        const x0 = Math.round(x(geneStarts[i])) + 0.5;
        const x1 = Math.round(x(geneEnds[i])) + 0.5;
        const top = geneTop[i] + 0.5;
        const bot = top + 13;
        const mid = (x0 + x1) / 2;
        let shape;
        if (geneShapes[i] === 'arrow') {
          const hb = x1 - 11;
          shape = <polygon points={`${x0},${top} ${hb},${top} ${hb},${top - 4} ${x1},${(top + bot) / 2} ${hb},${bot + 4} ${hb},${bot} ${x0},${bot}`} fill="#fff" stroke="#000" />;
        } else {
          shape = <rect x={x0} y={top} width={x1 - x0} height={13} fill="#fff" stroke="#000" />;
        }
        const mx = geneMarkAtEnd[i] ? x1 : x0;
        return (
          <g key={g}>
            {shape}
            <line x1={mx} x2={mx} y1={top - 4} y2={bot + 4} stroke="#000" />
            <text x={mid} y={geneLabelY[i]} textAnchor="middle" fill="#000">{g}</text>
          </g>
        );
      })}

      {/* transcripts */}
      {transcriptStarts.map((s, i) => (
        <rect key={`tr${i}`} x={Math.round(x(s)) + 0.5} y={207.5} width={Math.round(x(transcriptEnds[i]) - x(s))} height={10} fill="none" stroke="#0000ee" />
      ))}
      <rect x={Math.round(x(greenFeature[0]))} y={207} width={Math.round(x(greenFeature[1]) - x(greenFeature[0]))} height={11} fill="#00ee00" />
      <text x={x(greenFeature[0]) + 17} y={228} fill="#000">{greenFeatureLabel}</text>
      <rect x={Math.round(x(redBox[0])) + 0.5} y={258.5} width={Math.round(x(redBox[1]) - x(redBox[0]))} height={10} fill="none" stroke="#ff0000" />

      {/* promoters / axis */}
      <line x1={pX} x2={x(promoterPlus.lineEnd)} y1={336.5} y2={336.5} stroke="#ff0000" />
      <line x1={x(START)} x2={x(END)} y1={366.5} y2={366.5} stroke="#000" />
      <line x1={pX + 0.5} x2={pX + 0.5} y1={343} y2={363} stroke="#ff0000" />
      <polygon points={rightFlag} fill="#ff0000" shapeRendering="crispEdges" />
      <rect x={pX - 2.5} y={362.5} width={6} height={5} fill="none" stroke="#ff0000" />
      <text x={pX + 39} y={353} fill="#000">{promoterPlus.label}</text>

      <line x1={dX0 + 0.5} x2={dX0 + 0.5} y1={366} y2={372} stroke="#ff0000" />
      <rect x={dX0} y={371} width={dX1 - dX0} height={9} fill="#ff0000" />
      <text x={dX1} y={379} fill="#000">{downFeature.label}</text>

      <rect x={mX - 5.5} y={366.5} width={11} height={5} fill="none" stroke="#ff0000" />
      <line x1={mX + 0.5} x2={mX + 0.5} y1={371} y2={389} stroke="#ff0000" />
      <polygon points={leftFlag} fill="#ff0000" shapeRendering="crispEdges" />
      <text x={0} y={386} fill="#000">{promoterMinus.label}</text>
      <line x1={0} x2={mX + 1} y1={397.5} y2={397.5} stroke="#ff0000" />

      {/* data */}
      {elements}

      {/* operon bars */}
      {barStarts.map((s, i) => {
        const x0 = Math.round(x(s));
        const x1 = Math.round(x(barEnds[i]));
        const top = barTops[i];
        return (
          <g key={`bar${i}`}>
            <rect x={x0} y={top} width={x1 - x0} height={11} fill={barColors[i]} />
            <text x={(x0 + x1) / 2} y={barSigns[i] === '+' ? top - 3 : top + 20} textAnchor="middle" fill="#000" fontWeight="bold">{barSigns[i]}</text>
          </g>
        );
      })}
    </svg>
  );
}
